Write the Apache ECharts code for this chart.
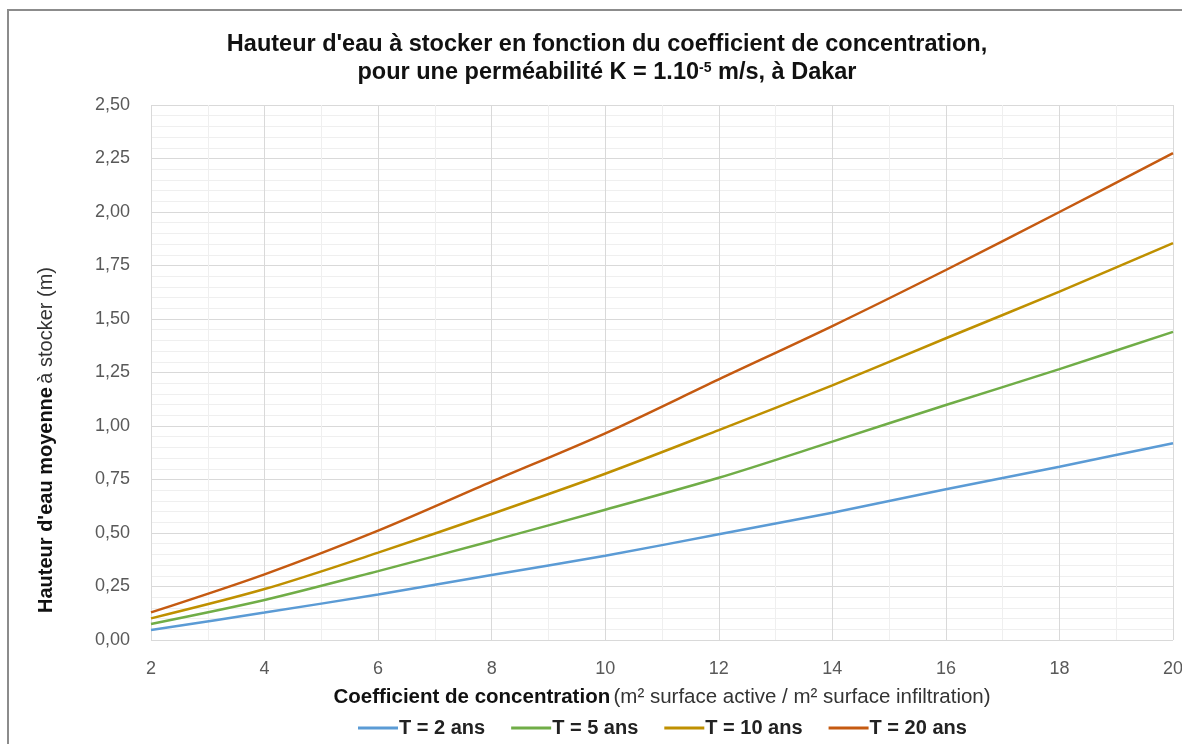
<!DOCTYPE html>
<html>
<head>
<meta charset="utf-8">
<script src="https://cdn.jsdelivr.net/npm/echarts@6/dist/echarts.min.js"></script>
<style>
  html, body { margin: 0; padding: 0; background: #fff; }
  #chart { width: 1182px; height: 744px; }
</style>
</head>
<body>
<div id="chart"></div>
<script>
// coefficient de concentration (axe x)
const coefs = [2, 4, 6, 8, 10, 12, 14, 16, 18, 20];
// hauteur d'eau (m) par période de retour
const t2ans = [0.047, 0.128, 0.213, 0.304, 0.394, 0.494, 0.595, 0.704, 0.810, 0.919];
const t5ans = [0.075, 0.187, 0.322, 0.463, 0.609, 0.758, 0.927, 1.098, 1.266, 1.440];
const t10ans = [0.101, 0.238, 0.408, 0.589, 0.777, 0.981, 1.190, 1.410, 1.628, 1.855];
const t20ans = [0.129, 0.307, 0.511, 0.740, 0.966, 1.218, 1.467, 1.729, 2.000, 2.275];
const seriesNames = ["T = 2 ans", "T = 5 ans", "T = 10 ans", "T = 20 ans"];

const colors = ["#5B9BD5", "#70AD47", "#BF9000", "#C55A11"];
const font = "'Liberation Sans', Arial, sans-serif";

const pairs = (ys) => coefs.map((x, i) => [x, ys[i]]);

const chart = echarts.init(document.getElementById("chart"));
const option = {
  color: colors,
  animation: false,
  textStyle: { fontFamily: font },
  title: {
    left: 602,
    top: 26,
    textAlign: "center",
    text:
      "{t|Hauteur d'eau à stocker en fonction du coefficient de concentration,}\n" +
      "{t|pour une perméabilité K = 1.10}{s|-5}{t| m/s, à Dakar}",
    textStyle: {
      rich: {
        t: { fontSize: 23.5, fontWeight: "bold", color: "#111", lineHeight: 28, fontFamily: font },
        s: { fontSize: 14, fontWeight: "bold", color: "#111", lineHeight: 28, padding: [0, 0, 10, 0], fontFamily: font },
      },
    },
  },
  grid: { left: 151, right: 9, top: 105, bottom: 104, outerBoundsMode: "none" },
  legend: {
    top: 713,
    left: 353,
    itemWidth: 40,
    itemHeight: 3,
    itemGap: 26,
    icon: "rect",
    textStyle: { fontSize: 20, fontWeight: "bold", color: "#222", fontFamily: font, padding: [0, 0, 0, -4] },
    data: seriesNames,
  },
  xAxis: {
    type: "value",
    min: 2,
    max: 20,
    interval: 2,
    name: "{b|Coefficient de concentration} {n|(m² surface active / m² surface infiltration)}",
    nameLocation: "middle",
    nameGap: 47,
    nameTextStyle: {
      rich: {
        b: { fontSize: 20.5, fontWeight: "bold", color: "#111", fontFamily: font },
        n: { fontSize: 20.5, color: "#333", fontFamily: font },
      },
    },
    axisLine: { show: false },
    axisTick: { show: false },
    axisLabel: { fontSize: 18, color: "#595959", margin: 20 },
    splitLine: { show: true, lineStyle: { color: "#D9D9D9", width: 1 } },
    minorTick: { show: false, splitNumber: 2 },
    minorSplitLine: { show: true, lineStyle: { color: "#EFEFEF", width: 1 } },
  },
  yAxis: {
    type: "value",
    min: 0,
    max: 2.5,
    interval: 0.25,
    axisLine: { show: false },
    axisTick: { show: false },
    axisLabel: {
      fontSize: 18,
      color: "#595959",
      margin: 21,
      formatter: (v) => v.toFixed(2).replace(".", ","),
    },
    splitLine: { show: true, lineStyle: { color: "#D9D9D9", width: 1 } },
    minorTick: { show: false, splitNumber: 5 },
    minorSplitLine: { show: true, lineStyle: { color: "#EFEFEF", width: 1 } },
  },
  graphic: [
    {
      type: "rect",
      shape: { x: 8, y: 10, width: 1300, height: 900 },
      style: { fill: "none", stroke: "#8C8C8C", lineWidth: 2 },
      silent: true,
    },
    {
      type: "text",
      x: 46,
      y: 440,
      rotation: Math.PI / 2,
      style: {
        text: "{b|Hauteur d'eau moyenne} {n|à stocker (m)}",
        align: "center",
        verticalAlign: "middle",
        rich: {
          b: { fontSize: 20, fontWeight: "bold", fill: "#111", fontFamily: font },
          n: { fontSize: 20, fill: "#333", fontFamily: font },
        },
      },
    },
  ],
  series: [
    { name: seriesNames[0], type: "line", data: pairs(t2ans) },
    { name: seriesNames[1], type: "line", data: pairs(t5ans) },
    { name: seriesNames[2], type: "line", data: pairs(t10ans) },
    { name: seriesNames[3], type: "line", data: pairs(t20ans) },
  ].map((s) => ({ ...s, smooth: 0.3, showSymbol: false, lineStyle: { width: 2.5 } })),
};
chart.setOption(option);
</script>
</body>
</html>
